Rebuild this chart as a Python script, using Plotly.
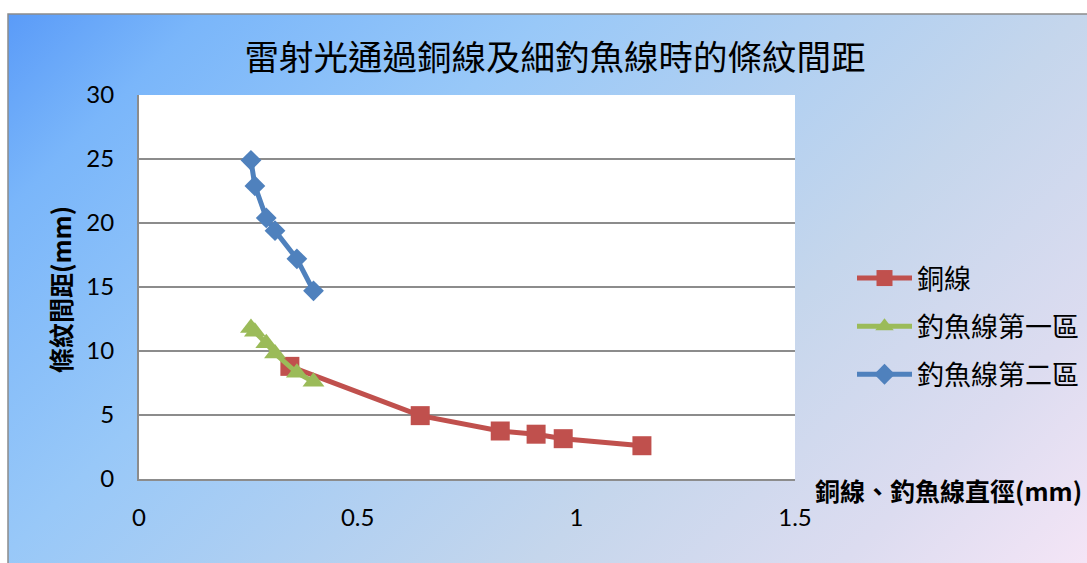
import base64
import plotly.graph_objects as go

# Copper wire: diameter (mm) vs fringe spacing (mm)
copper_diam = [0.345, 0.643, 0.826, 0.908, 0.970, 1.150]
copper_spacing = [8.8, 4.95, 3.75, 3.5, 3.15, 2.6]

# Fishing line: same diameters measured in two fringe zones
fish_diam = [0.256, 0.265, 0.291, 0.311, 0.361, 0.399]
fish_zone1_spacing = [11.8, 11.5, 10.6, 9.8, 8.3, 7.6]
fish_zone2_spacing = [24.9, 22.9, 20.4, 19.4, 17.2, 14.7]

series_names = ["銅線", "釣魚線第一區", "釣魚線第二區"]
x_ticks = [0, 0.5, 1, 1.5]
y_ticks = [0, 5, 10, 15, 20, 25, 30]

W, H = 1087, 563
CJK = "Noto Sans CJK TC"
NUM = "Lato"


def px_x(p):
    return p / W


def px_y(p):
    return 1 - p / H


# plot-area box in pixels
PL, PR, PT, PB = 139, 795, 95, 479

fig = go.Figure()

fig.add_trace(go.Scatter(
    x=copper_diam, y=copper_spacing, name=series_names[0], legendgroup="a",
    mode="lines+markers",
    line=dict(color="#C0504D", width=5),
    marker=dict(symbol="square", size=19, color="#C0504D"),
))
fig.add_trace(go.Scatter(
    x=fish_diam, y=fish_zone1_spacing, name=series_names[1], legendgroup="b",
    mode="lines+markers",
    line=dict(color="#9BBB59", width=5),
    marker=dict(symbol="triangle-up", size=19, color="#9BBB59"),
))
fig.add_trace(go.Scatter(
    x=fish_diam, y=fish_zone2_spacing, name=series_names[2], legendgroup="c",
    mode="lines+markers",
    line=dict(color="#4F81BD", width=5),
    marker=dict(symbol="diamond", size=16, color="#4F81BD"),
))

# diagonal blue-to-lavender chart background
grad_svg = (
    '<svg xmlns="http://www.w3.org/2000/svg" width="1079" height="549" '
    'viewBox="0 0 1079 549" preserveAspectRatio="none">'
    '<defs><linearGradient id="g" gradientUnits="userSpaceOnUse" '
    'x1="0" y1="0" x2="814" y2="814">'
    '<stop offset="0" stop-color="#5a9bf8"/>'
    '<stop offset="0.12" stop-color="#7ab6fa"/>'
    '<stop offset="0.33" stop-color="#98c8f8"/>'
    '<stop offset="0.66" stop-color="#c5d6ec"/>'
    '<stop offset="0.85" stop-color="#dcdcf0"/>'
    '<stop offset="1" stop-color="#f4e5f6"/>'
    '</linearGradient></defs>'
    '<rect x="0" y="0" width="1079" height="549" fill="url(#g)"/></svg>'
)
grad_uri = "data:image/svg+xml;base64," + base64.b64encode(grad_svg.encode()).decode()

fig.add_layout_image(
    source=grad_uri, xref="paper", yref="paper",
    x=px_x(8), y=px_y(14), sizex=(W - 8) / W, sizey=(H - 14) / H,
    xanchor="left", yanchor="top", sizing="stretch", layer="below",
)

# white plot area and chart border
fig.add_shape(type="rect", xref="paper", yref="paper",
              x0=px_x(PL), x1=px_x(PR), y0=px_y(PB), y1=px_y(PT),
              fillcolor="white", line=dict(width=0), layer="below")
fig.add_shape(type="rect", xref="paper", yref="paper",
              x0=px_x(8), x1=1.02, y0=-0.02, y1=px_y(14),
              fillcolor="rgba(0,0,0,0)", line=dict(color="#8c8c8c", width=1.5),
              layer="below")

fig.update_layout(
    width=W, height=H, autosize=False,
    margin=dict(l=0, r=0, t=0, b=0),
    paper_bgcolor="white", plot_bgcolor="white",
    title=dict(text="雷射光通過銅線及細釣魚線時的條紋間距",
               x=px_x(555), y=px_y(58), xanchor="center", yanchor="middle",
               font=dict(family=CJK, size=34.5, color="black")),
    xaxis=dict(domain=[px_x(PL), px_x(PR)], range=[0, 1.5],
               tickvals=x_ticks, ticktext=[str(v) for v in x_ticks],
               showgrid=False, zeroline=False,
               showline=True, linecolor="#8c8c8c", linewidth=2,
               ticks="", ticklabelstandoff=16,
               tickfont=dict(family=NUM, size=24, color="black"),
               automargin=False, fixedrange=True),
    yaxis=dict(domain=[px_y(PB), px_y(PT)], range=[0, 30],
               tickvals=y_ticks,
               showgrid=True, gridcolor="#8c8c8c", gridwidth=1.5,
               zeroline=False,
               showline=True, linecolor="#8c8c8c", linewidth=2,
               ticks="", ticklabelstandoff=18,
               tickfont=dict(family=NUM, size=24, color="black"),
               automargin=False, fixedrange=True),
    legend=dict(x=px_x(852), y=px_y(254), xanchor="left", yanchor="top",
                bgcolor="rgba(0,0,0,0)", borderwidth=0,
                traceorder="grouped", tracegroupgap=10, itemwidth=55,
                font=dict(family=CJK, size=27, color="black")),
    showlegend=True,
    annotations=[
        dict(text="<b>條紋間距(mm)</b>", textangle=-90,
             xref="paper", yref="paper", x=px_x(60), y=px_y(290),
             xanchor="center", yanchor="middle", showarrow=False,
             font=dict(family=CJK, size=25, color="black")),
        dict(text="<b>銅線、釣魚線直徑(mm)</b>",
             xref="paper", yref="paper", x=px_x(813), y=px_y(490),
             xanchor="left", yanchor="middle", showarrow=False,
             font=dict(family=CJK, size=25, color="black")),
    ],
)

fig.write_html("out.html")
